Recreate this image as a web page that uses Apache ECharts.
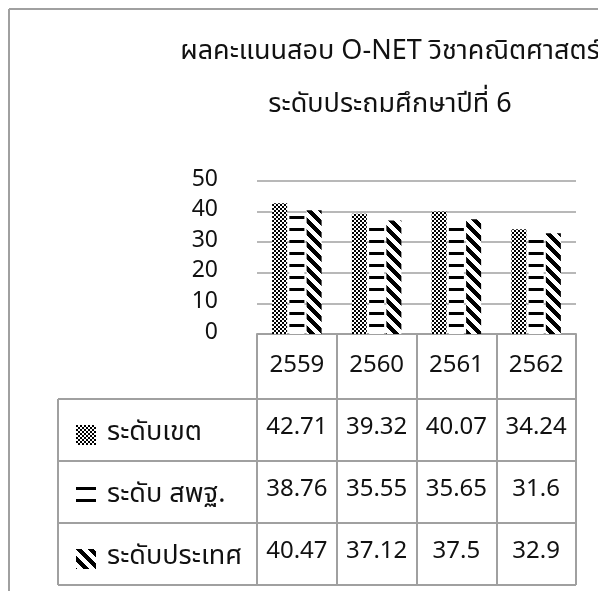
<!DOCTYPE html>
<html><head><meta charset="utf-8">
<script src="https://cdn.jsdelivr.net/npm/echarts@6/dist/echarts.min.js"></script>
<style>html,body{margin:0;padding:0;background:#fff}#c{width:598px;height:591px}</style>
</head><body><div id="c"></div><script>
const years = ['2559', '2560', '2561', '2562'];
const seriesNames = ['ระดับเขต', 'ระดับ สพฐ.', 'ระดับประเทศ'];
const district = [42.71, 39.32, 40.07, 34.24];
const obec = [38.76, 35.55, 35.65, 31.6];
const national = [40.47, 37.12, 37.5, 32.9];
const yMin = 0, yMax = 50, yStep = 10;
const titleLines = ['ผลคะแนนสอบ O-NET วิชาคณิตศาสตร์', 'ระดับประถมศึกษาปีที่ 6'];

const FONT = "'Noto Sans Thai','Leelawadee UI','Tahoma','Noto Sans','DejaVu Sans',sans-serif";
const LINE = '#a0a0a0';

function tile(w, h, fn) {
  const c = document.createElement('canvas'); c.width = w; c.height = h;
  const g = c.getContext('2d'); const im = g.createImageData(w, h);
  for (let y = 0; y < h; y++) for (let x = 0; x < w; x++) {
    const k = (y * w + x) * 4; const b = fn(x, y) ? 0 : 255;
    im.data[k] = im.data[k + 1] = im.data[k + 2] = b; im.data[k + 3] = 255;
  }
  g.putImageData(im, 0, 0); return c;
}
const patChecker = tile(4, 4, (x, y) => (((x >> 1) + (y >> 1)) % 2) === 0);
const patDash = tile(12, 12, (x, y) => y < 3);
const patDiag = tile(12, 12, (x, y) => ((x - y + 24) % 12) < 6);
const patterns = [patChecker, patDash, patDiag];
const rows = [district, obec, national];

const chart = echarts.init(document.getElementById('c'), null, {renderer: 'canvas'});
chart.setOption({
  animation: false,
  backgroundColor: '#fff',
  textStyle: {fontFamily: FONT},
  title: {
    text: titleLines.join('\n'), left: 390, top: 27, textAlign: 'center', padding: 0,
    textStyle: {fontSize: 27, fontWeight: 'normal', color: '#111', lineHeight: 53, fontFamily: FONT}
  },
  legend: {
    orient: 'vertical', left: 71, top: 413, itemWidth: 20, itemHeight: 20, itemGap: 28,
    icon: 'rect', selectedMode: false, data: seriesNames,
    textStyle: {fontSize: 27, lineHeight: 34, color: '#111', fontFamily: FONT, padding: [0, 0, 0, 6]}
  },
  grid: {left: 257, right: 22, top: 181, bottom: 257, containLabel: false},
  yAxis: {
    type: 'value', min: yMin, max: yMax, interval: yStep,
    axisLine: {show: false}, axisTick: {show: false},
    axisLabel: {fontSize: 23, color: '#111', margin: 39, fontFamily: FONT},
    splitLine: {lineStyle: {color: LINE, width: 1.5}}
  },
  xAxis: [
    {
      type: 'category', data: years, position: 'bottom',
      axisLine: {lineStyle: {color: LINE, width: 2}},
      axisTick: {show: true, length: 251, interval: 0, lineStyle: {color: LINE, width: 2}},
      axisLabel: {fontSize: 24, margin: 33, verticalAlign: 'middle', color: '#111', fontFamily: FONT}
    }
  ].concat(rows.map((r, i) => ({
    type: 'category', data: r.map(String), position: 'bottom', offset: 65 + 62 * i,
    axisLine: {show: false}, axisTick: {show: false},
    axisLabel: {fontSize: 24, margin: 30, verticalAlign: 'middle', color: '#111', fontFamily: FONT}
  }))),
  series: rows.map((r, i) => ({
    type: 'bar', name: seriesNames[i], data: r, xAxisIndex: 0,
    barWidth: 15, barGap: '15%',
    itemStyle: {color: {image: patterns[i], repeat: 'repeat'}}
  })),
  graphic: [
    {type: 'line', shape: {x1: 9, y1: 9, x2: 598, y2: 9}, style: {stroke: LINE, lineWidth: 2}},
    {type: 'line', shape: {x1: 9, y1: 9, x2: 9, y2: 591}, style: {stroke: LINE, lineWidth: 2}},
    {type: 'line', shape: {x1: 58, y1: 399, x2: 576, y2: 399}, style: {stroke: LINE, lineWidth: 2}},
    {type: 'line', shape: {x1: 58, y1: 461, x2: 576, y2: 461}, style: {stroke: LINE, lineWidth: 2}},
    {type: 'line', shape: {x1: 58, y1: 523, x2: 576, y2: 523}, style: {stroke: LINE, lineWidth: 2}},
    {type: 'line', shape: {x1: 58, y1: 585, x2: 576, y2: 585}, style: {stroke: LINE, lineWidth: 2}},
    {type: 'line', shape: {x1: 58, y1: 399, x2: 58, y2: 585}, style: {stroke: LINE, lineWidth: 2}}
  ]
});
</script></body></html>
